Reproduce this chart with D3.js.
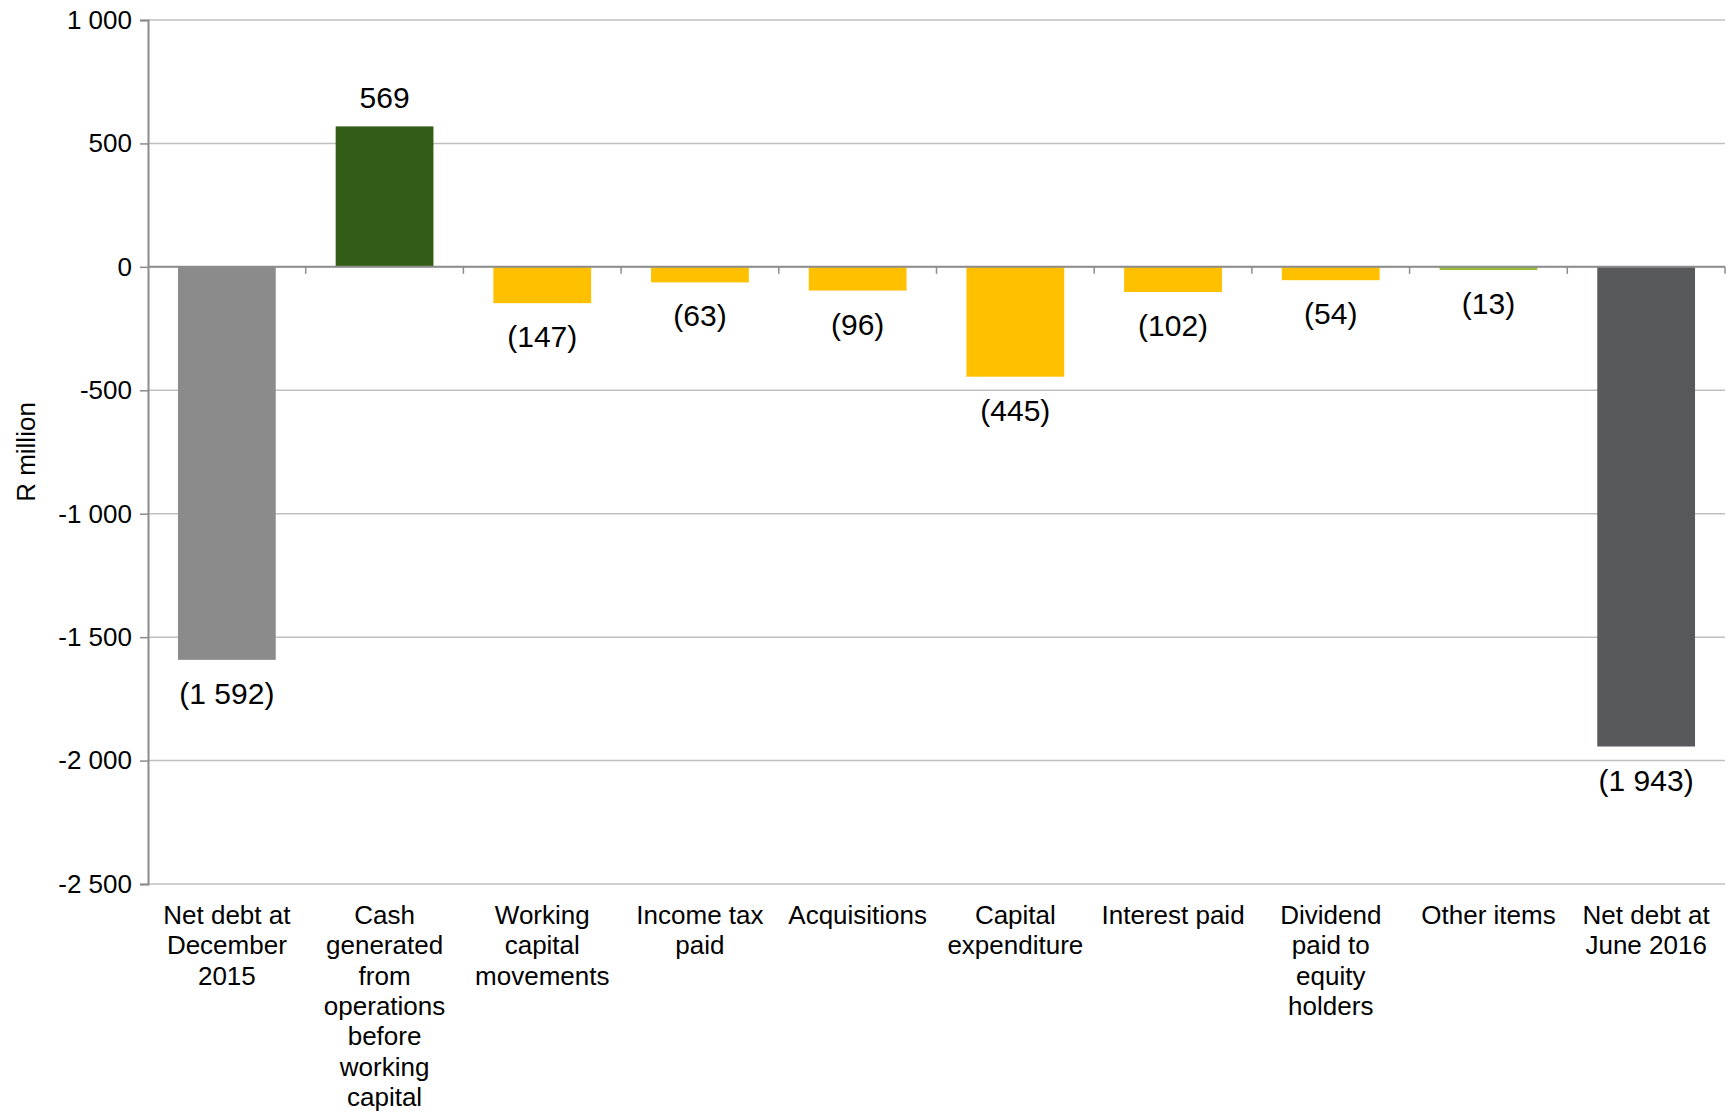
<!DOCTYPE html>
<html>
<head>
<meta charset="utf-8">
<script src="https://cdn.jsdelivr.net/npm/d3@7"></script>
<style>
  body { margin: 0; background: #fff; }
  text { font-family: "Liberation Sans", Arial, sans-serif; fill: #000; }
</style>
</head>
<body>
<div id="chart"></div>
<script>
// data
var categories = [
  "Net debt at\nDecember\n2015",
  "Cash\ngenerated\nfrom\noperations\nbefore\nworking\ncapital",
  "Working\ncapital\nmovements",
  "Income tax\npaid",
  "Acquisitions",
  "Capital\nexpenditure",
  "Interest paid",
  "Dividend\npaid to\nequity\nholders",
  "Other items",
  "Net debt at\nJune 2016"
];
var values = [-1592, 569, -147, -63, -96, -445, -102, -54, -13, -1943];
var yTicks = [1000, 500, 0, -500, -1000, -1500, -2000, -2500];

var barColors = ["#8c8b8b", "#335c16", "#ffc000", "#ffc000", "#ffc000",
                 "#ffc000", "#ffc000", "#ffc000", "#9bbb3b", "#58595b"];

var width = 1731, height = 1114;
var margin = {top: 20, right: 6, bottom: 230, left: 148};

var svg = d3.select("#chart").append("svg")
    .attr("width", width)
    .attr("height", height);

var x = d3.scaleBand()
    .domain(d3.range(categories.length))
    .range([margin.left, width - margin.right])
    .paddingInner(0.38)
    .paddingOuter(0.19);

var y = d3.scaleLinear()
    .domain([-2500, 1000])
    .range([height - margin.bottom, margin.top]);

var spaceFmt = function(v) {
  var s = d3.format(",")(Math.abs(v)).replace(/,/g, " ");
  return (v < 0 ? "-" : "") + s;
};

// gridlines
svg.append("g").selectAll("line")
    .data(yTicks)
  .enter().append("line")
    .attr("x1", margin.left)
    .attr("x2", width - margin.right)
    .attr("y1", function(d) { return y(d); })
    .attr("y2", function(d) { return y(d); })
    .style("stroke", "#bfbfbf")
    .style("stroke-width", 1.5);

// y axis
var yAxis = svg.append("g")
    .attr("transform", "translate(" + margin.left + ",0)")
    .call(d3.axisLeft(y).tickValues(yTicks).tickSize(8).tickPadding(8).tickFormat(spaceFmt));
yAxis.select(".domain").style("stroke", "#8c8c8c").style("stroke-width", 2);
yAxis.selectAll(".tick line").style("stroke", "#8c8c8c").style("stroke-width", 1.5);
yAxis.selectAll(".tick text")
    .style("font-family", "'Liberation Sans', Arial, sans-serif")
    .style("font-size", "26px")
    .style("fill", "#000");

// bars
svg.append("g").selectAll("rect")
    .data(values)
  .enter().append("rect")
    .attr("x", function(d, i) { return x(i); })
    .attr("width", x.bandwidth())
    .attr("y", function(d) { return y(Math.max(0, d)); })
    .attr("height", function(d) { return Math.abs(y(d) - y(0)); })
    .style("fill", function(d, i) { return barColors[i]; });

// zero line with category ticks
svg.append("line")
    .attr("x1", margin.left)
    .attr("x2", width - margin.right)
    .attr("y1", y(0))
    .attr("y2", y(0))
    .style("stroke", "#8c8c8c")
    .style("stroke-width", 2);

var step = x.step();
svg.append("g").selectAll("line")
    .data(d3.range(1, categories.length + 1))
  .enter().append("line")
    .attr("x1", function(d) { return margin.left + d * step; })
    .attr("x2", function(d) { return margin.left + d * step; })
    .attr("y1", y(0))
    .attr("y2", y(0) + 7)
    .style("stroke", "#8c8c8c")
    .style("stroke-width", 1.5);

// data labels
svg.append("g").selectAll("text")
    .data(values)
  .enter().append("text")
    .attr("x", function(d, i) { return x(i) + x.bandwidth() / 2; })
    .attr("y", function(d) { return d >= 0 ? y(d) - 18 : y(d) + 44; })
    .attr("text-anchor", "middle")
    .style("font-size", "30px")
    .text(function(d) {
      var s = spaceFmt(Math.abs(d));
      return d < 0 ? "(" + s + ")" : s;
    });

// category labels
var catG = svg.append("g").selectAll("text")
    .data(categories)
  .enter().append("text")
    .attr("text-anchor", "middle")
    .style("font-size", "26px")
    .attr("transform", function(d, i) {
      return "translate(" + (x(i) + x.bandwidth() / 2) + "," + (y(-2500) + 40) + ")";
    });
catG.selectAll("tspan")
    .data(function(d) { return d.split("\n"); })
  .enter().append("tspan")
    .attr("x", 0)
    .attr("y", function(d, i) { return i * 30.3; })
    .text(function(d) { return d; });

// y axis title
svg.append("text")
    .attr("transform", "translate(35," + ((y(1000) + y(-2500)) / 2) + ") rotate(-90)")
    .attr("text-anchor", "middle")
    .style("font-size", "26px")
    .text("R million");
</script>
</body>
</html>
